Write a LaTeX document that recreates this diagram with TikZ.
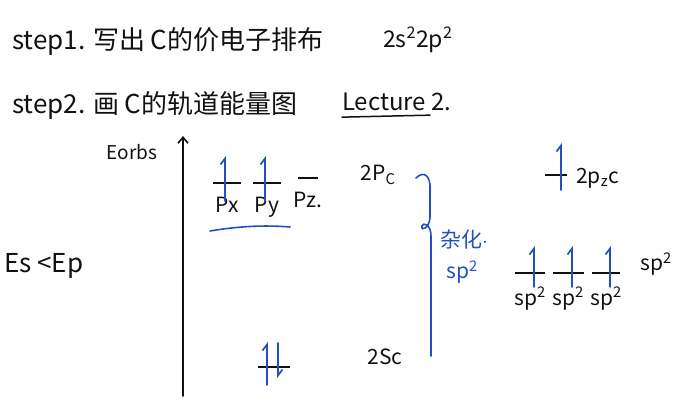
\documentclass[tikz,border=0pt]{standalone}
\usepackage{fontspec}
\setmainfont{Noto Sans CJK SC}
\usetikzlibrary{positioning, arrows.meta, calc}
\definecolor{penBlue}{HTML}{2350C0}
\definecolor{penBlack}{HTML}{111111}
\newcommand{\sq}{\textsuperscript{2}}

\begin{document}
\begin{tikzpicture}[x=1pt, y=-1pt, line cap=round,
  every node/.style={text=penBlack, inner sep=0pt},
  note/.style={font=\fontsize{26}{28}\selectfont, anchor=west},
  lbl/.style={font=\fontsize{21}{23}\selectfont},
  lvl/.style={fill=penBlack, minimum height=1.6pt, inner sep=0pt, minimum width=#1},
  lvl/.default=28pt,
  spin/.style={penBlue, line width=1.7pt, -{Straight Barb[left, length=6pt, width=9pt]}}]
  \useasboundingbox (0,0) rectangle (700,419);

  % notes at the top
  \node[note] (s1) at (12,42) {step1. 写出 C的价电子排布};
  \node[note, font=\fontsize{23}{25}\selectfont] (cfg) at (383,40) {2s\sq2p\sq};
  \node[note] (s2) at (12,106) {step2. 画 C的轨道能量图};
  \node[note, font=\fontsize{24}{26}\selectfont] (lec) at (342,102) {Lecture 2.};
  \draw[penBlack, line width=1.5pt] (lec.south west) ++(0,6) -- ++(88,-2);

  % energy axis
  \node[font=\fontsize{19}{21}\selectfont] (eorb) at (132,152) {Eorbs};
  \coordinate (ax0) at (183,396);
  \coordinate (ax1) at (183,136);
  \draw[penBlack, line width=1.6pt, -{Straight Barb[length=6pt, width=10pt]}] (ax0) -- (ax1);
  \node[note] (es) at (4,266) {Es <Ep};

  % carbon 2p and 2s
  \node[lvl] (px) at (227,183) {};
  \node[lvl] (py) at (267,183) {};
  \node[lvl=20pt] (pz) at (308,178) {};
  \node[lbl, below=13pt of px] (pxl) {Px};
  \node[lbl, below=13pt of py] (pyl) {Py};
  \node[lbl, below=13pt of pz] (pzl) {Pz.};
  \draw[spin] ($(px)+(-2,18)$) -- ($(px)+(-2,-27)$);
  \draw[spin] ($(py)+(-2,18)$) -- ($(py)+(-2,-27)$);
  \draw[penBlue, line width=1.6pt] (210,231) .. controls (240,226) and (265,225) .. (290,227);
  \node[lbl] (p2c) at (378,175) {2P\textsubscript{C}};

  \node[lvl=32pt] (s2c) at (274,367) {};
  \draw[spin] ($(s2c)+(-7,18)$) -- ($(s2c)+(-7,-25)$);
  \draw[spin] ($(s2c)+(4,-24)$) -- ($(s2c)+(4,11)$);
  \node[lbl] (s2cl) at (385,357) {2Sc};

  % hybridisation
  \draw[penBlue, line width=1.6pt] (416,178) .. controls (424,170) and (431,176) .. (430,190)
    -- (430,218) .. controls (429,228) and (421,232) .. (422,226)
    .. controls (423,222) and (431,224) .. (431,236) -- (431,356);
  \node[lbl, text=penBlue, anchor=west] (hyb) at (440,240) {杂化$\cdot$};
  \node[lbl, text=penBlue, anchor=west] (hsp) at (446,272) {sp\sq};

  \node[lvl=22pt] (pzc) at (556,175) {};
  \draw[spin] ($(pzc)+(5,15)$) -- ($(pzc)+(5,-32)$);
  \node[lbl, anchor=west] (pzcl) at (576,178) {2p\textsubscript{z}c};

  \node[lvl=30pt] (h1) at (530,273) {};
  \node[lvl=31pt] (h2) at (568,273) {};
  \node[lvl=28pt] (h3) at (606,273) {};
  \foreach \h in {h1,h2,h3}{
    \draw[spin] ($(\h)+(4,14)$) -- ($(\h)+(4,-27)$);
    \node[lbl, below=13pt of \h] (\h l) {sp\sq};
  }
  \node[lbl, anchor=west] (spr) at (640,264) {sp\sq};
\end{tikzpicture}
\end{document}
